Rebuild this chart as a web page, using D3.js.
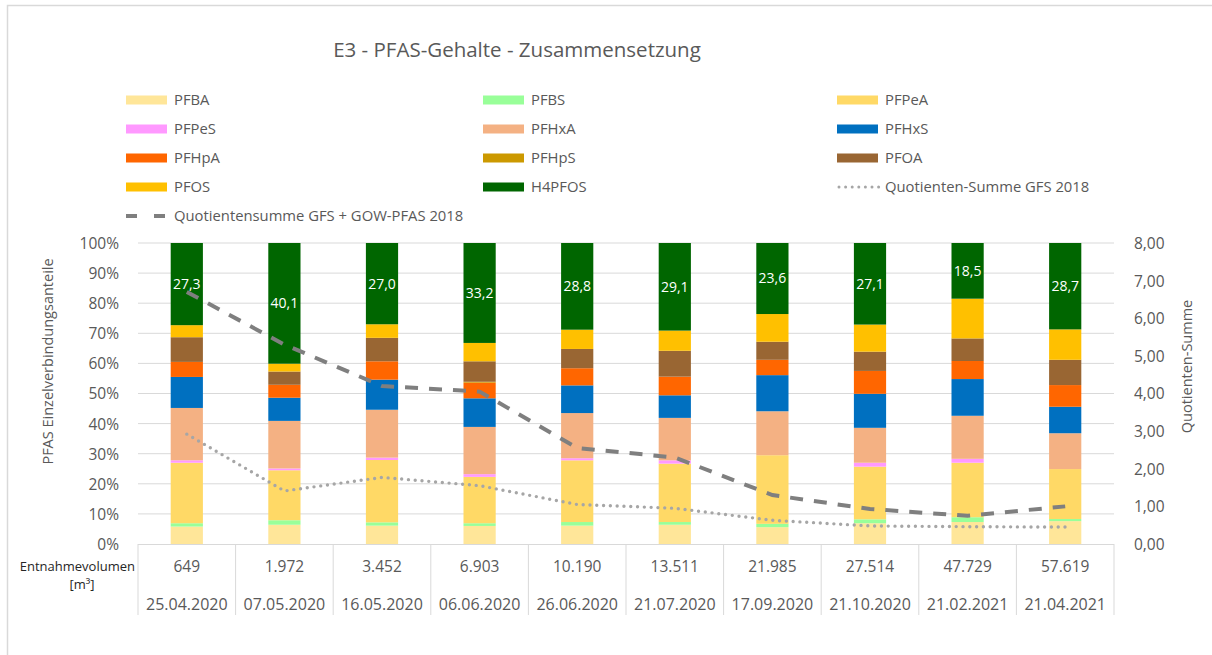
<!DOCTYPE html>
<html>
<head>
<meta charset="utf-8">
<script src="https://cdn.jsdelivr.net/npm/d3@7"></script>
<style>
  body { margin: 0; background: #fff; }
  svg text { font-family: "Open Sans", "Noto Sans", sans-serif; }
</style>
</head>
<body>
<div id="chart"></div>
<script>
// sampling dates + withdrawn volume
const dates = ["25.04.2020", "07.05.2020", "16.05.2020", "06.06.2020", "26.06.2020",
               "21.07.2020", "17.09.2020", "21.10.2020", "21.02.2021", "21.04.2021"]
const volumes = ["649", "1.972", "3.452", "6.903", "10.190", "13.511", "21.985", "27.514", "47.729", "57.619"]

// share of each compound in %
const PFBA   = [5.8, 6.4, 6.1, 6.0, 6.1, 6.4, 5.6, 6.9, 7.3, 7.6]
const PFBS   = [1.1, 1.5, 1.1, 0.9, 1.2, 0.9, 1.1, 1.3, 1.6, 0.7]
const PFPeA  = [20.1, 16.6, 20.7, 15.4, 20.5, 19.4, 22.8, 17.5, 18.1, 16.6]
const PFPeS  = [0.8, 0.6, 0.8, 0.9, 0.7, 1.1, 0.0, 1.3, 1.3, 0.0]
const PFHxA  = [17.4, 15.8, 15.9, 15.7, 15.0, 14.1, 14.6, 11.6, 14.3, 11.9]
const PFHxS  = [10.3, 7.7, 10.0, 9.5, 9.2, 7.5, 12.0, 11.3, 12.2, 8.8]
const PFHpA  = [5.0, 4.3, 6.1, 5.2, 5.7, 6.2, 5.1, 7.6, 6.0, 7.2]
const PFHpS  = [0.0, 0.0, 0.0, 0.3, 0.0, 0.0, 0.0, 0.0, 0.0, 0.0]
const PFOA   = [8.2, 4.4, 7.8, 6.8, 6.4, 8.6, 6.0, 6.4, 7.5, 8.4]
const PFOS   = [4.0, 2.6, 4.5, 6.1, 6.4, 6.7, 9.2, 9.0, 13.2, 10.1]
const H4PFOS = [27.3, 40.1, 27.0, 33.2, 28.8, 29.1, 23.6, 27.1, 18.5, 28.7]

// quotient sums (right axis)
const quotGfs    = [2.92, 1.41, 1.77, 1.55, 1.05, 0.95, 0.63, 0.48, 0.46, 0.45]
const quotGfsGow = [6.7, 5.3, 4.2, 4.05, 2.55, 2.3, 1.3, 0.93, 0.75, 1.0]

const leftTicks = [0, 10, 20, 30, 40, 50, 60, 70, 80, 90, 100]
const rightTicks = [0, 1, 2, 3, 4, 5, 6, 7, 8]

const series = [
  {key: "PFBA", values: PFBA, color: "#FFE699"},
  {key: "PFBS", values: PFBS, color: "#99FF99"},
  {key: "PFPeA", values: PFPeA, color: "#FFD966"},
  {key: "PFPeS", values: PFPeS, color: "#FF99FF"},
  {key: "PFHxA", values: PFHxA, color: "#F4B183"},
  {key: "PFHxS", values: PFHxS, color: "#0070C0"},
  {key: "PFHpA", values: PFHpA, color: "#FF6600"},
  {key: "PFHpS", values: PFHpS, color: "#CC9900"},
  {key: "PFOA", values: PFOA, color: "#996633"},
  {key: "PFOS", values: PFOS, color: "#FFC000"},
  {key: "H4PFOS", values: H4PFOS, color: "#006600"}
]

const W = 1212, H = 655
const plot = {left: 138, right: 1114, top: 243, bottom: 544}
const grey = "#595959"
const font = "'Open Sans', 'Noto Sans', sans-serif"

const svg = d3.select("#chart").append("svg")
  .attr("width", W).attr("height", H)

// chart frame
svg.append("rect")
  .attr("x", 7.5).attr("y", 5.5)
  .attr("width", W).attr("height", H)
  .attr("fill", "none").attr("stroke", "#d9d9d9").attr("stroke-width", 1.5)

svg.append("text")
  .attr("x", 517).attr("y", 57)
  .attr("text-anchor", "middle")
  .attr("font-size", 20.5)
  .attr("fill", grey)
  .text("E3 - PFAS-Gehalte - Zusammensetzung")

const x = d3.scaleBand()
  .domain(dates)
  .range([plot.left, plot.right])
  .paddingInner(0.67).paddingOuter(0.335)

const xCenter = d => x(d) + x.bandwidth() / 2
const step = (plot.right - plot.left) / dates.length

const y = d3.scaleLinear().domain([0, 100]).range([plot.bottom, plot.top])
const y2 = d3.scaleLinear().domain([0, 8]).range([plot.bottom, plot.top])

// gridlines
svg.append("g")
  .selectAll("line")
  .data(leftTicks.slice(1))
  .enter()
  .append("line")
    .attr("x1", plot.left).attr("x2", plot.right)
    .attr("y1", d => y(d)).attr("y2", d => y(d))
    .attr("stroke", "#d9d9d9").attr("stroke-width", 1)

// left axis
const gLeft = svg.append("g")
  .attr("transform", `translate(${plot.left - 16},0)`)
  .call(d3.axisLeft(y).tickValues(leftTicks).tickSize(0).tickFormat(d => d + "%"))
gLeft.select(".domain").remove()
gLeft.selectAll("text")
  .attr("fill", grey).attr("font-size", 15.5).attr("dy", "0.35em")
  .style("font-family", font)

// right axis
const gRight = svg.append("g")
  .attr("transform", `translate(${plot.right + 17},0)`)
  .call(d3.axisRight(y2).tickValues(rightTicks).tickSize(0)
    .tickFormat(d => d3.format(".2f")(d).replace(".", ",")))
gRight.select(".domain").remove()
gRight.selectAll("text")
  .attr("fill", grey).attr("font-size", 15.5).attr("dy", "0.35em")
  .style("font-family", font)

// axis titles
svg.append("text")
  .attr("transform", `translate(53,${(plot.top + plot.bottom) / 2 - 32}) rotate(-90)`)
  .attr("text-anchor", "middle")
  .attr("font-size", 14.5).attr("fill", grey)
  .text("PFAS Einzelverbindungsanteile")

svg.append("text")
  .attr("transform", `translate(1192,${(plot.top + plot.bottom) / 2 - 27}) rotate(-90)`)
  .attr("text-anchor", "middle")
  .attr("font-size", 14.5).attr("fill", grey)
  .text("Quotienten-Summe")

// stacked bars
const rows = dates.map((d, i) => {
  const r = {date: d}
  series.forEach(s => { r[s.key] = s.values[i] })
  return r
})
const stacked = d3.stack().keys(series.map(s => s.key))(rows)

svg.append("g")
  .selectAll("g")
  .data(stacked)
  .enter()
  .append("g")
    .attr("fill", (d, i) => series[i].color)
  .selectAll("rect")
  .data(d => d)
  .enter()
  .append("rect")
    .attr("x", d => x(d.data.date))
    .attr("y", d => y(d[1]))
    .attr("width", x.bandwidth())
    .attr("height", d => y(d[0]) - y(d[1]))

// H4PFOS labels
const topLayer = stacked[stacked.length - 1]
svg.append("g")
  .selectAll("text")
  .data(topLayer)
  .enter()
  .append("text")
    .attr("x", d => xCenter(d.data.date))
    .attr("y", d => (y(d[0]) + y(d[1])) / 2)
    .attr("dy", "0.35em")
    .attr("text-anchor", "middle")
    .attr("font-size", 14)
    .attr("fill", "#ffffff")
    .text(d => d3.format(".1f")(d.data.H4PFOS).replace(".", ","))

// lines
const line = d3.line()
  .x((d, i) => xCenter(dates[i]))
  .y(d => y2(d))

svg.append("path")
  .datum(quotGfs)
  .attr("fill", "none")
  .attr("stroke", "#A6A6A6")
  .attr("stroke-width", 3.4)
  .attr("stroke-linecap", "round")
  .attr("stroke-dasharray", "0,6.8")
  .attr("d", line)

svg.append("path")
  .datum(quotGfsGow)
  .attr("fill", "none")
  .attr("stroke", "#7F7F7F")
  .attr("stroke-width", 4)
  .attr("stroke-dasharray", "13,11")
  .attr("d", line)

// table under the axis
const table = svg.append("g").attr("stroke", "#d9d9d9").attr("stroke-width", 1)
table.append("line")
  .attr("x1", plot.left).attr("x2", plot.right)
  .attr("y1", plot.bottom + 0.5).attr("y2", plot.bottom + 0.5)
table.selectAll("line.sep")
  .data(d3.range(dates.length + 1))
  .enter()
  .append("line")
    .attr("class", "sep")
    .attr("x1", i => plot.left + i * step).attr("x2", i => plot.left + i * step)
    .attr("y1", plot.bottom).attr("y2", 615)

svg.append("g")
  .selectAll("text")
  .data(volumes)
  .enter()
  .append("text")
    .attr("x", (d, i) => xCenter(dates[i]))
    .attr("y", 572)
    .attr("text-anchor", "middle")
    .attr("font-size", 15.5).attr("fill", grey)
    .text(d => d)

svg.append("g")
  .selectAll("text")
  .data(dates)
  .enter()
  .append("text")
    .attr("x", d => xCenter(d))
    .attr("y", 610)
    .attr("text-anchor", "middle")
    .attr("font-size", 16).attr("fill", grey)
    .text(d => d)

svg.append("text")
  .attr("x", 135).attr("y", 571)
  .attr("text-anchor", "end")
  .attr("font-size", 13).attr("fill", "#262626")
  .text("Entnahmevolumen")
svg.append("text")
  .attr("x", 82).attr("y", 589)
  .attr("text-anchor", "middle")
  .attr("font-size", 13).attr("fill", "#262626")
  .text("[m³]")

// legend
const legendItems = series.map(s => ({label: s.key, type: "box", color: s.color}))
legendItems.push({label: "Quotienten-Summe GFS 2018", type: "dot"})
legendItems.push({label: "Quotientensumme GFS + GOW-PFAS 2018", type: "dash"})

const colX = [126, 483, 837]
const rowY = [100, 129, 158, 187, 216]

const legend = svg.append("g")
  .selectAll("g")
  .data(legendItems)
  .enter()
  .append("g")
    .attr("transform", (d, i) => `translate(${colX[i % 3]},${rowY[Math.floor(i / 3)]})`)

legend.filter(d => d.type == "box")
  .append("rect")
    .attr("x", 0).attr("y", -4.5)
    .attr("width", 41).attr("height", 9)
    .attr("fill", d => d.color)

legend.filter(d => d.type == "dot")
  .append("line")
    .attr("x1", 2).attr("x2", 42).attr("y1", 0).attr("y2", 0)
    .attr("stroke", "#A6A6A6").attr("stroke-width", 3)
    .attr("stroke-linecap", "round").attr("stroke-dasharray", "0,6.6")

legend.filter(d => d.type == "dash")
  .append("line")
    .attr("x1", 0).attr("x2", 42).attr("y1", 0).attr("y2", 0)
    .attr("stroke", "#7F7F7F").attr("stroke-width", 4)
    .attr("stroke-dasharray", "11,17")

legend.append("text")
  .attr("x", 48).attr("dy", "0.35em")
  .attr("font-size", 14.8).attr("fill", grey)
  .text(d => d.label)
</script>
</body>
</html>
